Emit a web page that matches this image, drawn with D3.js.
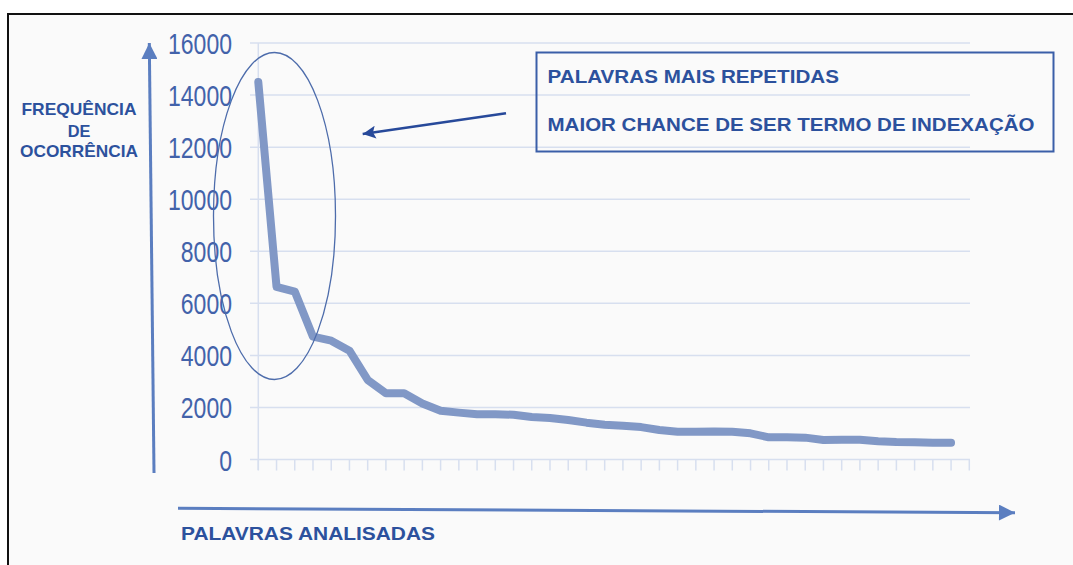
<!DOCTYPE html>
<html><head><meta charset="utf-8">
<script src="https://cdn.jsdelivr.net/npm/d3@7"></script>
<style>html,body{margin:0;padding:0;background:#fff;}svg{display:block;}</style>
</head><body>
<svg id="c" width="1073" height="565"></svg>
<script>
// ---- data ----
const words = d3.range(39).map(i => "p" + (i + 1));   // palavras analisadas (unnamed categories)
const frequencies = [14500, 6630, 6450, 4720, 4565, 4180, 3055, 2543, 2543, 2150,
  1875, 1800, 1735, 1735, 1720, 1630, 1595, 1518, 1415, 1338,
  1300, 1245, 1133, 1068, 1068, 1080, 1068, 1006, 852, 852,
  840, 750, 760, 760, 700, 672, 660, 645, 640];
const yTicks = [0, 2000, 4000, 6000, 8000, 10000, 12000, 14000, 16000];
const yTitle = ["FREQUÊNCIA", "DE", "OCORRÊNCIA"];
const xTitle = "PALAVRAS ANALISADAS";
const noteLines = ["PALAVRAS MAIS REPETIDAS", "MAIOR CHANCE DE SER TERMO DE INDEXAÇÃO"];

const svg = d3.select("#c");
const textDark = "#2c519d", tickCol = "#4262aa", gridCol = "#d7dfef", lineCol = "#8198c6", arrowCol = "#5b7ec0";
const font = "'Liberation Sans', Arial, sans-serif";

// frame
svg.append("rect").attr("x", 8).attr("y", 14).attr("width", 1070).attr("height", 560).attr("fill", "#fafafa");
svg.append("line").attr("x1", 8).attr("x2", 1073).attr("y1", 14).attr("y2", 14).attr("stroke", "#111").attr("stroke-width", 2);
svg.append("line").attr("x1", 8).attr("x2", 8).attr("y1", 13).attr("y2", 565).attr("stroke", "#111").attr("stroke-width", 2);

// scales
const x = d3.scaleLinear().domain([0, words.length]).range([258.3, 969.3]);
const y = d3.scaleLinear().domain([0, 16000]).range([459.5, 43]);

// gridlines
svg.append("g").selectAll("line").data(yTicks).join("line")
  .attr("x1", 250).attr("x2", 970).attr("y1", d => y(d)).attr("y2", d => y(d))
  .attr("stroke", gridCol).attr("stroke-width", 1.5);
// vertical axis line
svg.append("line").attr("x1", x(0)).attr("x2", x(0)).attr("y1", y(16000)).attr("y2", 470)
  .attr("stroke", gridCol).attr("stroke-width", 1.5);
// x ticks
svg.append("g").selectAll("line").data(d3.range(words.length + 1)).join("line")
  .attr("x1", d => x(d)).attr("x2", d => x(d)).attr("y1", y(0)).attr("y2", 470.5)
  .attr("stroke", gridCol).attr("stroke-width", 1.5);

// y tick labels
svg.append("g").selectAll("text").data(yTicks).join("text")
  .attr("x", 232).attr("y", d => y(d) + 11)
  .attr("text-anchor", "end")
  .attr("font-family", font).attr("font-size", 30).attr("fill", tickCol)
  .attr("textLength", d => String(d).length * 12.8).attr("lengthAdjust", "spacingAndGlyphs")
  .text(d => d);

// data line
const line = d3.line().x((d, i) => x(i)).y(d => y(d));
svg.append("path").datum(frequencies).attr("d", line)
  .attr("fill", "none").attr("stroke", lineCol).attr("stroke-width", 8)
  .attr("stroke-linejoin", "round").attr("stroke-linecap", "round");

// ellipse highlight
svg.append("ellipse").attr("cx", 274.5).attr("cy", 216).attr("rx", 61).attr("ry", 163.5)
  .attr("fill", "none").attr("stroke", "#4d6cab").attr("stroke-width", 1.3);

// axis arrows
const defs = svg.append("defs");
defs.append("marker").attr("id", "ah").attr("viewBox", "0 0 10 10").attr("refX", 10).attr("refY", 5)
  .attr("markerUnits", "userSpaceOnUse").attr("markerWidth", 21).attr("markerHeight", 16).attr("orient", "auto")
  .append("path").attr("d", "M0,0 L10,5 L0,10 Z").attr("fill", arrowCol);
defs.append("marker").attr("id", "ah2").attr("viewBox", "0 0 10 10").attr("refX", 10).attr("refY", 5)
  .attr("markerUnits", "userSpaceOnUse").attr("markerWidth", 24).attr("markerHeight", 13).attr("orient", "auto")
  .append("path").attr("d", "M0,0 L10,5 L0,10 L2,5 Z").attr("fill", "#27499a");

svg.append("line").attr("x1", 154).attr("y1", 473).attr("x2", 149.3).attr("y2", 43)
  .attr("stroke", arrowCol).attr("stroke-width", 3).attr("marker-end", "url(#ah)");
svg.append("line").attr("x1", 178).attr("y1", 508.3).attr("x2", 1015).attr("y2", 512.7)
  .attr("stroke", arrowCol).attr("stroke-width", 3).attr("marker-end", "url(#ah)");

// y title
const yt = [[115, 115], [136.7, 22.7], [157, 118]];
svg.append("g").selectAll("text").data(yTitle).join("text")
  .attr("x", 79).attr("y", (d, i) => yt[i][0]).attr("text-anchor", "middle")
  .attr("font-family", font).attr("font-weight", "bold").attr("font-size", 17).attr("fill", textDark)
  .attr("textLength", (d, i) => yt[i][1]).attr("lengthAdjust", "spacingAndGlyphs")
  .text(d => d);

// x title
svg.append("text").attr("x", 181).attr("y", 539.5)
  .attr("font-family", font).attr("font-weight", "bold").attr("font-size", 19).attr("fill", textDark)
  .attr("textLength", 254).attr("lengthAdjust", "spacingAndGlyphs").text(xTitle);

// annotation box
svg.append("rect").attr("x", 536.5).attr("y", 52.5).attr("width", 517).attr("height", 99)
  .attr("fill", "none").attr("stroke", "#3a5ea8").attr("stroke-width", 2);
const nl = [[82.7, 291.5], [130.7, 487]];
svg.append("g").selectAll("text").data(noteLines).join("text")
  .attr("x", 547.5).attr("y", (d, i) => nl[i][0])
  .attr("font-family", font).attr("font-weight", "bold").attr("font-size", 18.5).attr("fill", textDark)
  .attr("textLength", (d, i) => nl[i][1]).attr("lengthAdjust", "spacingAndGlyphs")
  .text(d => d);

// annotation arrow
svg.append("line").attr("x1", 506).attr("y1", 113.3).attr("x2", 362.7).attr("y2", 134)
  .attr("stroke", "#27499a").attr("stroke-width", 2.5).attr("marker-end", "url(#ah2)");
</script>
</body></html>
